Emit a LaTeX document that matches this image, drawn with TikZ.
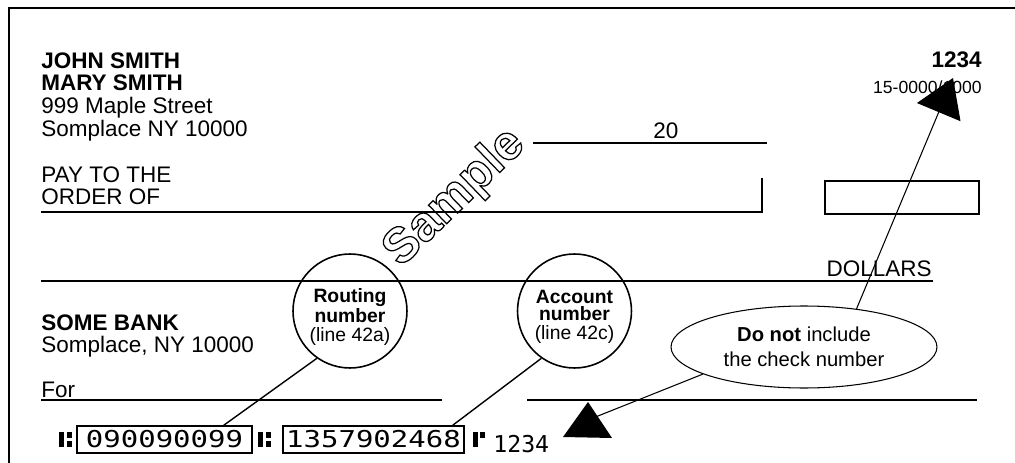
\documentclass[tikz,border=0pt]{standalone}
\usepackage{fontspec}
\setmainfont{Liberation Sans}
\newfontfamily\micrfont[FakeStretch=1.25]{DejaVu Sans Mono}
\newfontfamily\micrplain{DejaVu Sans Mono}
\usetikzlibrary{arrows.meta,positioning,calc,shapes.geometric}

\begin{document}
\begin{tikzpicture}[x=0.02cm, y=-0.02cm,
    form/.style={line width=0.8pt},
    txt/.style={inner sep=0pt, align=left, font=\fontsize{12.8pt}{13pt}\selectfont},
    ring/.style={circle, draw, line width=0.9pt, minimum size=2.28cm, inner sep=0pt},
    ringtxt/.style={align=center, inner sep=0pt, yshift=-0.12cm,
        font=\fontsize{11pt}{9.6pt}\selectfont},
    micrbox/.style={draw, line width=0.8pt, minimum height=0.54cm, inner sep=0pt,
        font=\micrfont\fontsize{13.2pt}{14pt}\selectfont},
    pointer/.style={line width=0.6pt},
    transit/.pic={\fill (0,-7.5) rectangle (5,7.5);
        \fill (8,-7.5) rectangle (13,-1.5);
        \fill (8,1.5) rectangle (13,7.5);},
    onus/.pic={\fill (0,-7.5) rectangle (5,7.5);
        \fill (7,-7.5) rectangle (12,-2);}
]
\useasboundingbox (0,0) rectangle (1015,463);

% frame
\draw[line width=1pt] (9,463) -- (9,8) -- (1015,8);

% owner and number
\node[txt, anchor=north west] (owner) at (41,52)
    {\textbf{JOHN SMITH}\\\textbf{MARY SMITH}\\999 Maple Street\\Somplace NY 10000};
\node[txt, anchor=base east] (chkno) at (982,68) {\textbf{1234}};
\node[inner sep=0pt, anchor=base east, font=\fontsize{10pt}{11pt}\selectfont] (fract) at (982,93) {15-0000/1000};

% date
\draw[form] (533,143) -- (767,143);
\node[txt, anchor=base west] (year) at (653,138) {20};

% payee and amount
\node[txt, anchor=north west] (payto) at (41,166) {PAY TO THE\\ORDER OF};
\draw[form] (41,212) -- (762,212) -- (762,178);
\draw[form] (825,181) rectangle (979,214);
\draw[form] (41,281) -- (933,281);
\node[txt, anchor=base east] (dollars) at (932,276) {DOLLARS};

\node[rotate=44, inner sep=0pt, font=\fontsize{28pt}{28pt}\selectfont\bfseries] (sample) at (455,198)
    {\special{pdf:literal direct 1 Tr 0.7 w}Sample\special{pdf:literal direct 0 Tr}};

% bank and memo
\node[txt, anchor=north west] (bank) at (41,314) {\textbf{SOME BANK}\\Somplace, NY 10000};
\node[txt, anchor=base west] (memo) at (41,397) {For};
\draw[form] (41,400) -- (442,400);
\draw[form] (527,400) -- (977,400);

% MICR line
\node[micrbox, minimum width=3.5cm] (route) at (164.5,439.5) {090090099};
\node[micrbox, minimum width=3.62cm] (acct) at (373.5,439.5) {1357902468};
\pic at ($(route.west)+(-17,0)$) {transit};
\pic at ($(route.east)+(5,0)$) {transit};
\pic at ($(acct.east)+(8,0)$) {onus};
\node[inner sep=0pt, anchor=base west, font=\micrplain\fontsize{13.2pt}{14pt}\selectfont] (micrno) at (493,452) {1234};

% callouts
\node[ring, label={[ringtxt]center:{\textbf{Routing}\\\textbf{number}\\[1.5pt](line 42a)}}] (routc) at (350,311) {};
\node[ring, label={[ringtxt]center:{\textbf{Account}\\\textbf{number}\\[1.5pt](line 42c)}}] (acctc) at (574.5,311) {};
\draw[form] (routc.235) -- ($(route.north east)+(-29,0)$);
\draw[form] (acctc.235) -- ($(acct.north east)+(-12,0)$);

\node[ellipse, draw, line width=0.6pt, minimum width=5.32cm, minimum height=1.64cm, inner sep=0pt,
    align=center, font=\fontsize{11.5pt}{14.2pt}\selectfont] (warn) at (804,347)
    {\textbf{Do not} include\\the check number};

\coordinate (numtip) at (953,78);
\coordinate (micrtip) at (588,420);
\draw[pointer, -{Triangle[length=0.74cm,width=0.94cm]}] (warn.36) -- (numtip);
\draw[pointer] (warn.195) -- (micrtip);
\fill ($(micrtip)+(0,-18)$) -- ($(micrtip)+(24,18)$) -- ($(micrtip)+(-25,17)$) -- cycle;
\end{tikzpicture}
\end{document}
